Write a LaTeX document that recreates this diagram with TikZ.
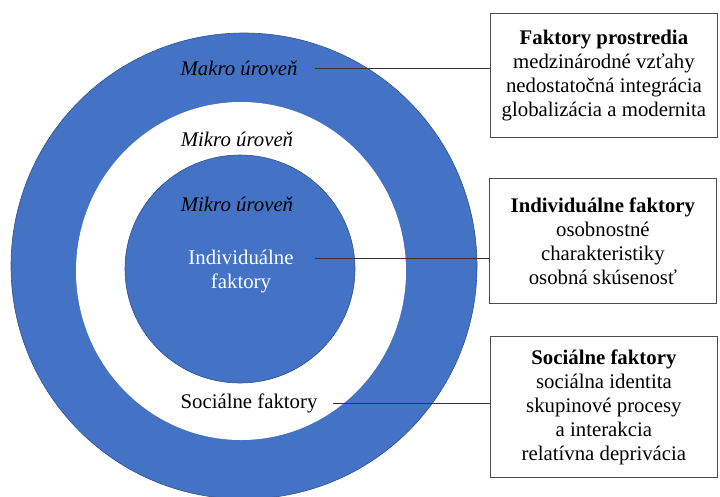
\documentclass[tikz,border=0pt]{standalone}
\usepackage{fontspec}
\setmainfont{Liberation Serif}
\definecolor{ringblue}{HTML}{4472C4}
\definecolor{edgeblue}{HTML}{2F528F}
\definecolor{linegray}{HTML}{333333}
\begin{document}
\begin{tikzpicture}[x=1pt,y=-1pt,
  txt/.style={font=\fontsize{20.8}{24}\selectfont, inner sep=0pt, align=center},
  lvl/.style={txt, font=\fontsize{20.8}{24}\selectfont\itshape},
  factorbox/.style={draw=black!70, line width=0.8pt, fill=white, txt, minimum width=227pt, anchor=north west},
  conn/.style={draw=linegray, line width=0.8pt}]
\useasboundingbox (0,0) rectangle (720,496);
\clip (0,0) rectangle (720,496);
\fill[white] (0,0) rectangle (720,496);
% rings
\draw[fill=ringblue, draw=edgeblue, line width=0.6pt] (244,266) circle (233);
\fill[white] (241,271) ellipse [x radius=165, y radius=169];
\draw[fill=ringblue, draw=edgeblue, line width=0.6pt] (240,269) ellipse [x radius=115, y radius=114];
% labels in circles
\node[lvl] (mak) at (239,68) {Makro úroveň};
\node[lvl] (mik1) at (237,139) {Mikro úroveň};
\node[lvl] (mik2) at (237,204) {Mikro úroveň};
\node[txt, text=white] (ind) at (241,272) {Individuálne\\faktory};
\node[txt] (soc) at (249,403) {Sociálne faktory};
% boxes
\node[factorbox, minimum height=124pt] (b1) at (490,13) {\textbf{Faktory prostredia}\\medzinárodné vzťahy\\nedostatočná integrácia\\globalizácia a modernita};
\node[factorbox, minimum height=125pt] (b2) at (489,178) {\textbf{Individuálne faktory}\\osobnostné\\charakteristiky\\osobná skúsenosť};
\node[factorbox, minimum height=141pt] (b3) at (490,336) {\textbf{Sociálne faktory}\\sociálna identita\\skupinové procesy\\a interakcia\\relatívna deprivácia};
% connectors
\draw[conn] ([xshift=17pt]mak.east) -- (b1.west |- mak.east);
\draw[conn] ([xshift=21pt]ind.east |- 0,258) coordinate (i0) -- (b2.west |- i0);
\draw[conn] ([xshift=15pt]soc.east) -- (b3.west |- soc.east);
\end{tikzpicture}
\end{document}
